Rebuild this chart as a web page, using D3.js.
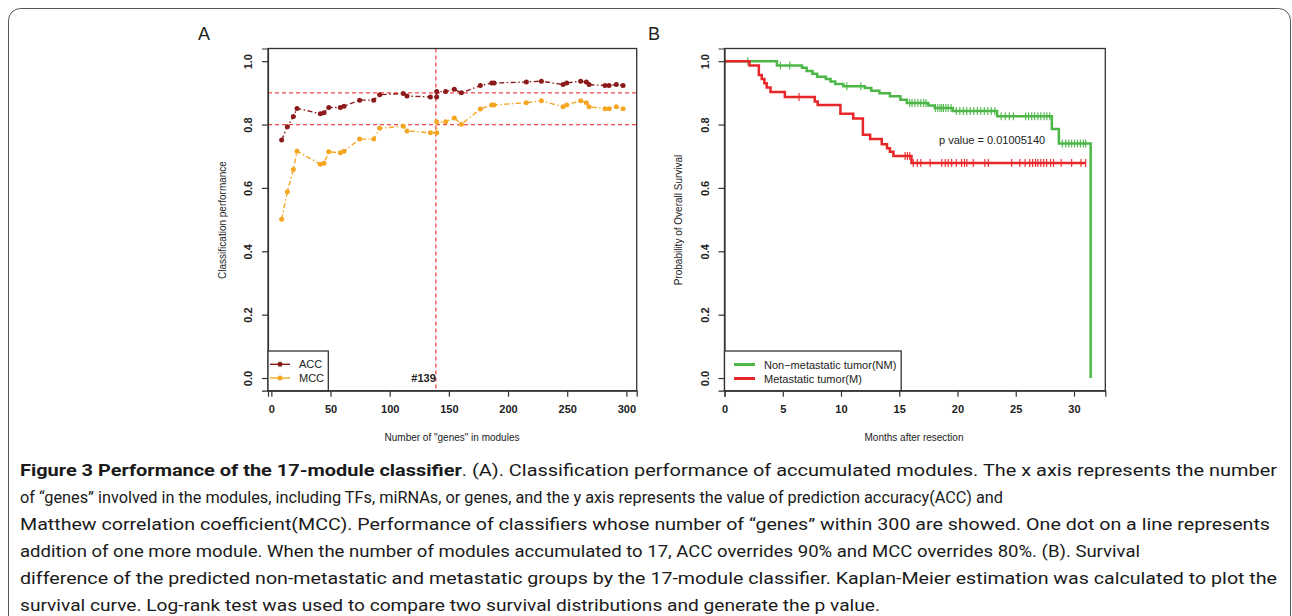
<!DOCTYPE html>
<html lang="en">
<head>
<meta charset="UTF-8">
<script src="https://d3js.org/d3.v7.min.js"></script>
<style>
  body { margin: 0; background: #fff; }
  svg text { font-family: "Liberation Sans", Arial, sans-serif; fill: #222; }
  .tick text { font-weight: bold; font-size: 11px; }
  .caption text { font-family: Roboto, "Open Sans", sans-serif; font-size: 17px; fill: #1a1a1a; }
</style>
<title>Figure 3</title>
</head>
<body>
<svg width="1292" height="616"></svg>
<script>
// ---- panel A data: number of "genes" vs classification performance
const genes = [8.7, 13.5, 18.6, 21.7, 41.4, 44.5, 48.5, 58.3, 61.4, 74.6, 86.5, 91.5, 111.5, 114.6,
  134.4, 139.7, 139.7, 147.3, 154.6, 160.6, 176.6, 186.2, 188.2, 215.5, 228.2, 246.5, 249.6, 261.4,
  266.2, 268.5, 282, 285.4, 291.5, 297.2];
const acc = [0.751, 0.793, 0.825, 0.851, 0.834, 0.837, 0.854, 0.854, 0.858, 0.877, 0.877, 0.894, 0.898, 0.890,
  0.887, 0.887, 0.904, 0.904, 0.911, 0.900, 0.923, 0.931, 0.931, 0.934, 0.937, 0.926, 0.931, 0.937,
  0.934, 0.926, 0.923, 0.923, 0.926, 0.923];
const mcc = [0.501, 0.588, 0.658, 0.716, 0.675, 0.678, 0.714, 0.711, 0.716, 0.754, 0.754, 0.788, 0.795, 0.780,
  0.774, 0.774, 0.809, 0.809, 0.821, 0.801, 0.849, 0.862, 0.862, 0.869, 0.875, 0.856, 0.862, 0.875,
  0.869, 0.856, 0.850, 0.850, 0.856, 0.850];
const refLinesY = [0.9, 0.8];
const refLineX = 139;
const xTicksA = [0, 50, 100, 150, 200, 250, 300];
const yTicks = [0, 0.2, 0.4, 0.6, 0.8, 1.0];

// ---- panel B data: Kaplan-Meier steps [month, survival after step]
const nmSteps = [[0, 1], [4.5, 0.986], [6.65, 0.979], [7.05, 0.969], [7.55, 0.96], [7.95, 0.951], [8.7, 0.944],
  [9.1, 0.936], [9.5, 0.928], [10.2, 0.921], [12.05, 0.915], [12.6, 0.907], [13.3, 0.899], [14.2, 0.889],
  [15.1, 0.878], [15.65, 0.868], [17.5, 0.86], [18.05, 0.852], [19.6, 0.843], [23.4, 0.826], [28.1, 0.786],
  [28.7, 0.74], [31.43, 0]];
const mSteps = [[0, 1], [2.14, 0.986], [2.95, 0.956], [3.2, 0.944], [3.42, 0.93], [3.62, 0.917], [3.95, 0.903],
  [5.18, 0.887], [7.75, 0.873], [8.0, 0.862], [9.95, 0.834], [11.05, 0.819], [11.88, 0.768], [12.5, 0.754],
  [13.5, 0.738], [13.95, 0.725], [14.2, 0.714], [14.5, 0.701], [16.05, 0.679], [31.0, 0.679]];
const nmCensor = [2.0, 4.8, 5.6, 10.5, 11.7, 15.9, 16.1, 16.35, 16.6, 16.85, 17.1, 17.3, 18.1, 18.3, 18.5,
  18.65, 18.8, 19.0, 19.2, 19.45, 19.9, 20.2, 20.5, 20.8, 21.1, 21.4, 21.7, 22.0, 22.3, 22.6, 22.9, 23.2,
  23.75, 24.1, 24.45, 24.8, 25.85, 26.1, 26.37, 26.62, 26.9, 27.15, 27.43, 27.67, 27.92,
  29.0, 29.3, 29.55, 29.8, 30.05, 30.3, 30.55, 30.8, 31.0];
const mCensor = [6.4, 15.5, 15.7, 15.9, 16.2, 16.55, 16.85, 17.65, 18.65, 18.95, 19.2, 19.5, 19.9, 20.35,
  20.6, 20.8, 21.35, 22.35, 22.65, 24.65, 25.35, 25.8, 26.2, 26.45, 26.7, 26.9, 27.15, 27.4, 27.65, 28.0,
  28.25, 28.9, 29.8, 30.6, 31.0];
const xTicksB = [0, 5, 10, 15, 20, 25, 30];
const pValue = "p value = 0.01005140";

const caption = [
  ["Figure 3 Performance of the 17-module classifier", ". (A). Classification performance of accumulated modules. The x axis represents the number"],
  ["", "of \u201cgenes\u201d involved in the modules, including TFs, miRNAs, or genes, and the y axis represents the value of prediction accuracy(ACC) and"],
  ["", "Matthew correlation coefficient(MCC). Performance of classifiers whose number of \u201cgenes\u201d within 300 are showed. One dot on a line represents"],
  ["", "addition of one more module. When the number of modules accumulated to 17, ACC overrides 90% and MCC overrides 80%. (B). Survival"],
  ["", "difference of the predicted non-metastatic and metastatic groups by the 17-module classifier. Kaplan-Meier estimation was calculated to plot the"],
  ["", "survival curve. Log-rank test was used to compare two survival distributions and generate the p value."]
];
const captionEnds = [1277, 1003, 1270, 1140, 1277, 880];

const svg = d3.select('svg');
const redRef = '#f04848', accCol = '#8c1a1a', mccCol = '#f5a623';
const nmCol = '#4db748', mCol = '#e8262a';

// outer figure frame
svg.append('rect').attr('x', 8.5).attr('y', 8.5).attr('width', 1282).attr('height', 700)
  .attr('rx', 12).attr('fill', 'none').attr('stroke', '#555').attr('stroke-width', 1);

// R-like axis range: extend 4% each side
function rRange(lo, hi) { const d = (hi - lo) * 0.04; return [lo - d, hi + d]; }

const box = { top: 48.5, bottom: 390.7 };

function drawAxes(g, x, y, xt, left, right) {
  g.append('g').attr('class', 'tick')
    .attr('transform', `translate(0,${box.bottom})`)
    .call(d3.axisBottom(x).tickValues(xt).tickSize(6).tickPadding(9).tickFormat(d3.format('d')))
    .call(a => a.select('.domain').attr('stroke', '#333').attr('stroke-width', 1.2))
    .call(a => a.selectAll('.tick line').attr('stroke', '#333').attr('stroke-width', 1.2))
    .call(a => a.selectAll('text').attr('font-size', 11).attr('font-weight', 'bold').attr('fill', '#222'));
  const ya = g.append('g').attr('class', 'tick')
    .attr('transform', `translate(${left},0)`)
    .call(d3.axisLeft(y).tickValues(yTicks).tickSize(6).tickFormat(d3.format('.1f')));
  ya.select('.domain').attr('stroke', '#333').attr('stroke-width', 1.2);
  ya.selectAll('.tick line').attr('stroke', '#333').attr('stroke-width', 1.2);
  ya.selectAll('text').attr('font-size', 11).attr('font-weight', 'bold').attr('fill', '#222')
    .attr('x', 0).attr('dy', 0).attr('text-anchor', 'middle')
    .attr('transform', 'translate(-20,0) rotate(-90)').attr('dominant-baseline', 'central');
  g.append('rect').attr('x', left).attr('y', box.top)
    .attr('width', right - left).attr('height', box.bottom - box.top)
    .attr('fill', 'none').attr('stroke', '#333').attr('stroke-width', 1.3);
}

// ---------------- Panel A ----------------
const gA = svg.append('g');
const xA = d3.scaleLinear().domain(rRange(d3.min(genes), d3.max(genes))).range([268, 636.7]);
const yA = d3.scaleLinear().domain(rRange(0, 1)).range([box.bottom, box.top]);

// reference lines
refLinesY.forEach(v => gA.append('line')
  .attr('x1', 268).attr('x2', 636.7).attr('y1', yA(v)).attr('y2', yA(v))
  .attr('stroke', redRef).attr('stroke-width', 1.3).attr('stroke-dasharray', '4,3'));
gA.append('line').attr('x1', xA(refLineX)).attr('x2', xA(refLineX))
  .attr('y1', box.top).attr('y2', box.bottom)
  .attr('stroke', redRef).attr('stroke-width', 1.3).attr('stroke-dasharray', '4,3');

const seriesA = [{ name: 'ACC', vals: acc, col: accCol }, { name: 'MCC', vals: mcc, col: mccCol }];
seriesA.forEach(s => {
  const pts = genes.map((gx, i) => [gx, s.vals[i]]);
  gA.append('path').datum(pts)
    .attr('d', d3.line().x(d => xA(d[0])).y(d => yA(d[1])))
    .attr('fill', 'none').attr('stroke', s.col).attr('stroke-width', 1.4)
    .attr('stroke-dasharray', '5,2.5,1.5,2.5');
  gA.selectAll(null).data(pts).enter().append('circle')
    .attr('cx', d => xA(d[0])).attr('cy', d => yA(d[1])).attr('r', 2.5).attr('fill', s.col);
});

gA.append('text').attr('x', xA(refLineX)).attr('y', yA(0) + 4)
  .attr('text-anchor', 'end').attr('font-size', 11).attr('font-weight', 'bold').text('#' + refLineX);

drawAxes(gA, xA, yA, xTicksA, 268, 636.7);

// legend A
gA.append('rect').attr('x', 268).attr('y', 351).attr('width', 60.3).attr('height', box.bottom - 351)
  .attr('fill', '#fff').attr('stroke', '#333').attr('stroke-width', 1.3);
seriesA.forEach((s, i) => {
  const ly = 364.3 + i * 13.7;
  gA.append('line').attr('x1', 270).attr('x2', 290).attr('y1', ly).attr('y2', ly)
    .attr('stroke', s.col).attr('stroke-width', 1.4);
  gA.append('circle').attr('cx', 280).attr('cy', ly).attr('r', 2.5).attr('fill', s.col);
  gA.append('text').attr('x', 299).attr('y', ly).attr('dominant-baseline', 'central')
    .attr('font-size', 11).text(s.name);
});

gA.append('text').attr('x', 452).attr('y', 441).attr('text-anchor', 'middle')
  .attr('font-size', 10).text('Number of "genes" in modules');
gA.append('text').attr('transform', 'translate(226,220) rotate(-90)').attr('text-anchor', 'middle')
  .attr('font-size', 10).text('Classification performance');
gA.append('text').attr('x', 198).attr('y', 40).attr('font-size', 18).text('A');

// ---------------- Panel B ----------------
const gB = svg.append('g');
const xB = d3.scaleLinear().domain([0, d3.max(nmSteps, d => d[0]) * 1.04]).range([724.5, 1105.3]);
const yB = d3.scaleLinear().domain(rRange(0, 1)).range([box.bottom, box.top]);

function survAt(steps, t) {
  let s = 1;
  steps.forEach(d => { if (d[0] <= t) s = d[1]; });
  return s;
}
const groups = [
  { name: 'Non\u2212metastatic tumor(NM)', steps: nmSteps, cens: nmCensor, col: nmCol },
  { name: 'Metastatic tumor(M)', steps: mSteps, cens: mCensor, col: mCol }
];
groups.forEach(gr => {
  gB.append('path').datum(gr.steps)
    .attr('d', d3.line().curve(d3.curveStepAfter).x(d => xB(d[0])).y(d => yB(d[1])))
    .attr('fill', 'none').attr('stroke', gr.col).attr('stroke-width', 2.5);
  gB.selectAll(null).data(gr.cens).enter().append('line')
    .attr('x1', d => xB(d)).attr('x2', d => xB(d))
    .attr('y1', d => yB(survAt(gr.steps, d)) - 4).attr('y2', d => yB(survAt(gr.steps, d)) + 4)
    .attr('stroke', gr.col).attr('stroke-width', 1.1);
});

gB.append('text').attr('x', 939).attr('y', 140).attr('dominant-baseline', 'central')
  .attr('font-size', 11).text(pValue);

drawAxes(gB, xB, yB, xTicksB, 724.5, 1105.3);

// legend B
gB.append('rect').attr('x', 724.5).attr('y', 351).attr('width', 176.7).attr('height', box.bottom - 351)
  .attr('fill', '#fff').attr('stroke', '#333').attr('stroke-width', 1.3);
groups.forEach((gr, i) => {
  const ly = 364.5 + i * 14;
  gB.append('line').attr('x1', 734).attr('x2', 755).attr('y1', ly).attr('y2', ly)
    .attr('stroke', gr.col).attr('stroke-width', 3);
  gB.append('text').attr('x', 764).attr('y', ly).attr('dominant-baseline', 'central')
    .attr('font-size', 11).text(gr.name);
});

gB.append('text').attr('x', 914).attr('y', 441).attr('text-anchor', 'middle')
  .attr('font-size', 10).text('Months after resection');
gB.append('text').attr('transform', 'translate(682,220) rotate(-90)').attr('text-anchor', 'middle')
  .attr('font-size', 10).text('Probability of Overall Survival');
gB.append('text').attr('x', 648).attr('y', 40).attr('font-size', 18).text('B');

// ---------------- caption ----------------
const cap = svg.append('g').attr('class', 'caption');
caption.forEach((ln, i) => {
  const t = cap.append('text').attr('x', 20).attr('y', 476 + i * 27)
    .attr('textLength', captionEnds[i] - 20).attr('lengthAdjust', 'spacingAndGlyphs');
  if (ln[0]) t.append('tspan').attr('font-weight', 'bold').text(ln[0]);
  t.append('tspan').text(ln[1]);
});
</script>
</body>
</html>
